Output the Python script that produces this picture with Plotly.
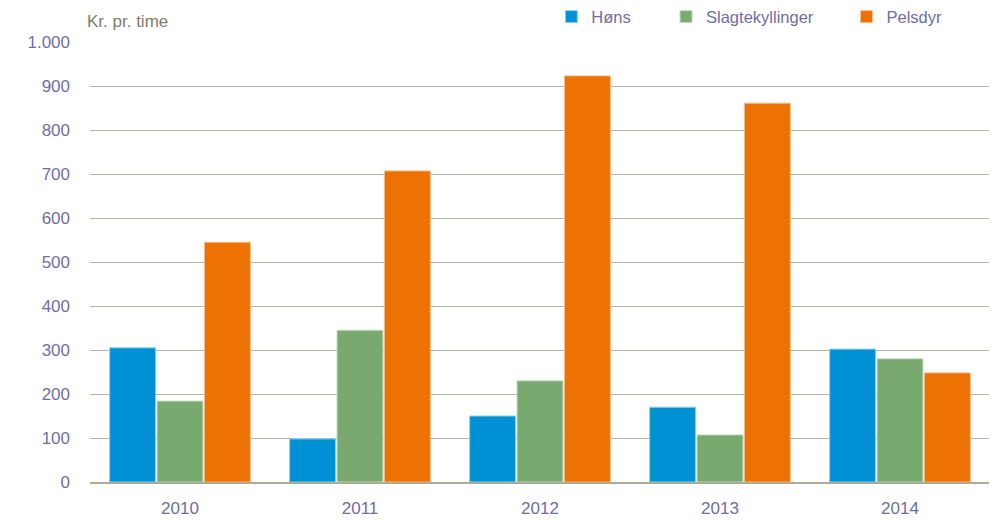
import plotly.graph_objects as go

years = ["2010", "2011", "2012", "2013", "2014"]
hons = [305, 98, 150, 170, 302]
slagt = [184, 345, 230, 107, 280]
pels = [545, 707, 923, 861, 248]

names = ["Høns", "Slagtekyllinger", "Pelsdyr"]
colors = ["#0091D5", "#78A96F", "#EE7203"]
outlines = ["#8FD0EE", "#C8DCC3", "#F8BE8A"]
series = [hons, slagt, pels]

FONT = "Liberation Sans, Arial, sans-serif"
TXT = "#6E6EA6"

fig = go.Figure()
legend_ids = ["legend", "legend2", "legend3"]
for name, vals, c, o, lg in zip(names, series, colors, outlines, legend_ids):
    fig.add_trace(go.Bar(
        x=years, y=vals, name=name,
        marker=dict(color=c, line=dict(color=o, width=1)),
        legend=lg, showlegend=True,
    ))

leg_common = dict(orientation="h", xanchor="left", yanchor="middle",
                  xref="container", yref="container",
                  bgcolor="rgba(0,0,0,0)", font=dict(family=FONT, size=16.5, color=TXT),
                  itemwidth=30, tracegroupgap=0, borderwidth=0)
fig.update_layout(
    width=997, height=524,
    margin=dict(l=82, r=15, t=34, b=50, autoexpand=False),
    plot_bgcolor="white", paper_bgcolor="white",
    barmode="group", bargap=0.21, bargroupgap=0.03,
    separators=",.",
    showlegend=True,
    font=dict(family=FONT, size=17, color=TXT),
    legend=dict(x=0.545, y=0.983, **leg_common),
    legend2=dict(x=0.660, y=0.983, **leg_common),
    legend3=dict(x=0.841, y=0.983, **leg_common),
    xaxis=dict(showgrid=False, showline=True, linecolor="#ADAB98", linewidth=1.5,
               ticks="", automargin=False, ticklabelstandoff=10,
               tickfont=dict(family=FONT, size=17, color=TXT)),
    yaxis=dict(range=[0, 1000], dtick=100, showgrid=True, gridcolor="#B4B2A2",
               gridwidth=1.2, zeroline=False, separatethousands=True, automargin=False,
               tickfont=dict(family=FONT, size=17, color=TXT), ticklabelstandoff=19),
    annotations=[dict(text="Kr. pr. time", xref="paper", yref="paper",
                      x=-0.006, y=1.046, xanchor="left", yanchor="middle",
                      showarrow=False, font=dict(family=FONT, size=17, color="#7D7D6C"))],
)

fig.write_html("out.html")
